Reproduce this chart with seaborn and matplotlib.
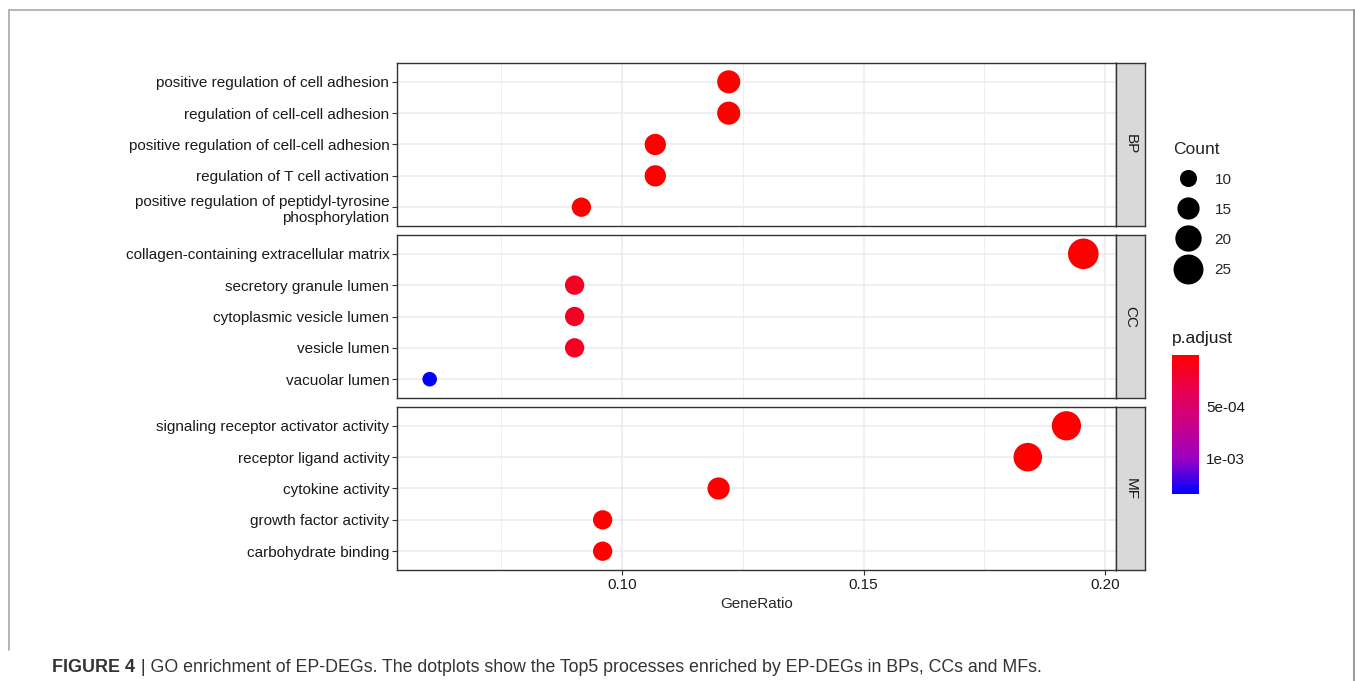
import numpy as np
import pandas as pd
import matplotlib
matplotlib.use("Agg")
import matplotlib.pyplot as plt
import seaborn as sns
from matplotlib.colors import LinearSegmentedColormap, Normalize
from matplotlib.lines import Line2D
import matplotlib.ticker as mticker

# ---- data ----
bp_terms = ["positive regulation of cell adhesion",
            "regulation of cell-cell adhesion",
            "positive regulation of cell-cell adhesion",
            "regulation of T cell activation",
            "positive regulation of peptidyl-tyrosine\nphosphorylation"]
bp_ratio = [0.1221, 0.1221, 0.1069, 0.1069, 0.0916]
bp_count = [16, 16, 14, 14, 12]
bp_padj = [2e-8, 2e-8, 5e-7, 5e-7, 8e-6]

cc_terms = ["collagen-containing extracellular matrix",
            "secretory granule lumen",
            "cytoplasmic vesicle lumen",
            "vesicle lumen",
            "vacuolar lumen"]
cc_ratio = [0.1955, 0.0902, 0.0902, 0.0902, 0.0602]
cc_count = [26, 12, 12, 12, 8]
cc_padj = [1e-10, 1.5e-4, 1.5e-4, 1.5e-4, 1.337e-3]

mf_terms = ["signaling receptor activator activity",
            "receptor ligand activity",
            "cytokine activity",
            "growth factor activity",
            "carbohydrate binding"]
mf_ratio = [0.192, 0.184, 0.120, 0.096, 0.096]
mf_count = [24, 23, 15, 12, 12]
mf_padj = [1e-9, 3e-9, 2e-6, 6e-6, 6e-6]

ontologies = ["BP", "CC", "MF"]
count_breaks = [10, 15, 20, 25]
padj_ticks = [5e-4, 1e-3]
padj_tick_labels = ["5e-04", "1e-03"]
x_ticks = [0.10, 0.15, 0.20]

frames = []
for ont, terms, ratio, count, padj in zip(
        ontologies,
        [bp_terms, cc_terms, mf_terms],
        [bp_ratio, cc_ratio, mf_ratio],
        [bp_count, cc_count, mf_count],
        [bp_padj, cc_padj, mf_padj]):
    frames.append(pd.DataFrame(dict(ONTOLOGY=ont, Description=terms,
                                    GeneRatio=ratio, Count=count,
                                    p_adjust=padj)))
df = pd.concat(frames, ignore_index=True)

# ---- styling ----
sns.set_style("white")
plt.rcParams["font.family"] = ["Liberation Sans", "DejaVu Sans"]

cmap = LinearSegmentedColormap.from_list(
    "red_blue_lab", ["#FF0000", "#E8004F", "#CA0089", "#9A00C3", "#0000FF"])
p_norm = Normalize(df.p_adjust.min(), df.p_adjust.max())
size_norm = (df.Count.min(), df.Count.max())
size_range = (110, 485)

def size_of(c):
    return size_range[0] + (c - size_norm[0]) / (size_norm[1] - size_norm[0]) * (size_range[1] - size_range[0])

W, H = 1355, 681
fig = plt.figure(figsize=(W / 100, H / 100), dpi=100)

def frac(x0, y0, x1, y1):
    return [x0 / W, 1 - y1 / H, (x1 - x0) / W, (y1 - y0) / H]

panel_px = {"BP": (63, 226), "CC": (235, 398), "MF": (407, 570)}
xr = df.GeneRatio.max() - df.GeneRatio.min()
xlim = (df.GeneRatio.min() - 0.05 * xr, df.GeneRatio.max() + 0.05 * xr)
border = "#333333"

for ont in ontologies:
    y0, y1 = panel_px[ont]
    ax = fig.add_axes(frac(397, y0, 1116, y1))
    sub = df[df.ONTOLOGY == ont]
    ax.set_axisbelow(True)
    sns.scatterplot(data=sub, x="GeneRatio", y="Description", hue="p_adjust",
                    palette=cmap, hue_norm=p_norm, size="Count",
                    sizes=size_range, size_norm=size_norm, linewidth=0,
                    legend=False, ax=ax, zorder=3)
    ax.set_xlim(xlim)
    ax.set_ylim(len(sub) - 1 + 0.6, -0.6)
    ax.set_xticks(x_ticks)
    ax.xaxis.set_minor_locator(mticker.FixedLocator([0.075, 0.125, 0.175]))
    ax.grid(True, which="major", color="#EBEBEB", linewidth=1.1)
    ax.grid(True, which="minor", axis="x", color="#EBEBEB", linewidth=0.6)
    ax.set_ylabel("")
    for s in ax.spines.values():
        s.set_color(border)
        s.set_linewidth(1.0)
    ax.tick_params(axis="y", left=True, length=3.5, width=0.8, color=border,
                   labelsize=11, labelcolor="#1a1a1a", pad=2)
    ax.tick_params(axis="x", which="minor", bottom=False)
    if ont == "MF":
        ax.tick_params(axis="x", bottom=True, length=3.5, width=0.8,
                       color=border, labelsize=11, labelcolor="#1a1a1a", pad=2)
        ax.xaxis.set_major_formatter(mticker.FormatStrFormatter("%.2f"))
        ax.set_xlabel("GeneRatio", fontsize=11, labelpad=4)
    else:
        ax.tick_params(axis="x", bottom=False, labelbottom=False)
        ax.set_xlabel("")

    # facet strip
    sax = fig.add_axes(frac(1116, y0, 1145, y1))
    sax.set_facecolor("#D9D9D9")
    sax.set_xticks([])
    sax.set_yticks([])
    for s in sax.spines.values():
        s.set_color(border)
        s.set_linewidth(1.0)
    sax.text(0.5, 0.5, ont, rotation=-90, ha="center", va="center",
             fontsize=11, color="#1a1a1a", transform=sax.transAxes)

# ---- Count legend ----
handles = [Line2D([], [], marker="o", linestyle="", color="black",
                  markeredgewidth=0, markersize=np.sqrt(size_of(c)))
           for c in count_breaks]
leg = fig.legend(handles, [str(c) for c in count_breaks], title="Count",
                 loc="upper left", bbox_to_anchor=(1162 / W, 1 - 131 / H),
                 frameon=False, fontsize=11, title_fontsize=12.5,
                 labelspacing=1.05, handletextpad=0.75, borderpad=0.2,
                 alignment="left")

# ---- p.adjust colorbar ----
cax = fig.add_axes(frac(1172, 355, 1199, 494))
cb = matplotlib.colorbar.ColorbarBase(cax, cmap=cmap, norm=p_norm,
                                      orientation="vertical")
cb.outline.set_visible(False)
cax.invert_yaxis()
cb.set_ticks(padj_ticks)
cb.set_ticklabels(padj_tick_labels)
cax.tick_params(axis="y", left=True, right=True, labelleft=False,
                labelright=True, direction="in", length=5, width=0.8,
                color="white", labelsize=11, labelcolor="#1a1a1a", pad=5)
fig.text(1172 / W, 1 - 338 / H, "p.adjust", fontsize=12.5, ha="left",
         va="center", color="#1a1a1a")

# ---- outer frame and caption ----
frame_c = "#A8A8A8"
fig.add_artist(Line2D([9 / W, 1], [1 - 10 / H, 1 - 10 / H], color=frame_c,
                      lw=1.2, transform=fig.transFigure))
fig.add_artist(Line2D([9 / W, 9 / W], [1 - 10 / H, 1 - 650 / H], color=frame_c,
                      lw=1.2, transform=fig.transFigure))
fig.add_artist(Line2D([1353.5 / W, 1353.5 / W], [1 - 10 / H, 0], color="#888888",
                      lw=1.2, transform=fig.transFigure))

cap_font = ["Liberation Sans Narrow", "Liberation Sans", "DejaVu Sans"]
t1 = fig.text(52 / W, 1 - 668 / H, "FIGURE 4", fontsize=12.9, fontweight="bold",
              family=cap_font, ha="left", va="center", color="#333333")
fig.canvas.draw()
bb = t1.get_window_extent()
fig.text((bb.x1 + 1) / W, 1 - 668 / H,
         " | GO enrichment of EP-DEGs. The dotplots show the Top5 processes "
         "enriched by EP-DEGs in BPs, CCs and MFs.",
         fontsize=12.8, family=cap_font, ha="left", va="center", color="#333333")

fig.savefig("out.png", dpi=100)
